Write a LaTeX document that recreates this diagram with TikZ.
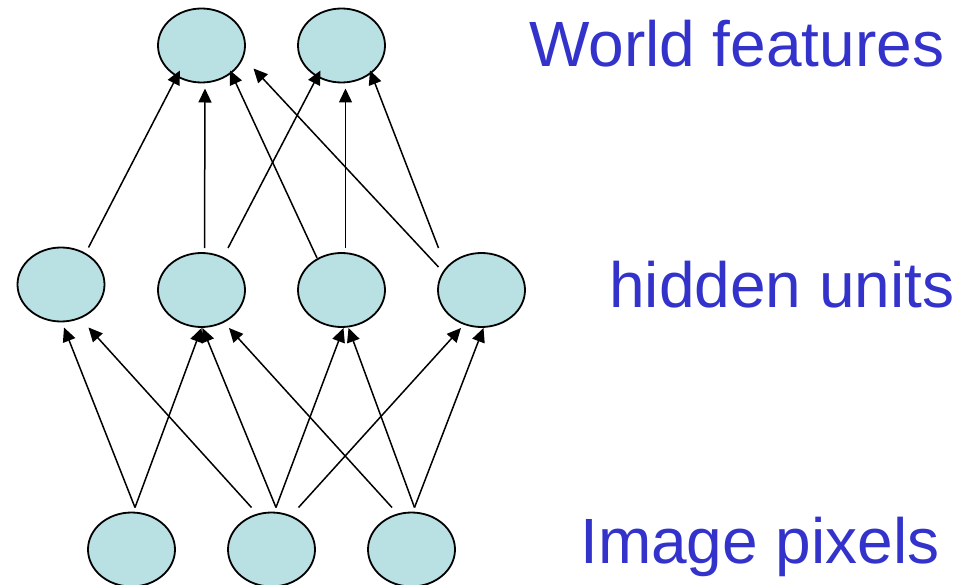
\documentclass[tikz,border=0pt]{standalone}
\usepackage{fontspec}
\setmainfont{Liberation Sans}
\usetikzlibrary{shapes.geometric,arrows.meta,calc}
\definecolor{unitfill}{RGB}{185,224,227}
\definecolor{labelblue}{RGB}{51,51,204}
\tikzset{
  unit/.style={ellipse,draw=black,line width=1.8pt,fill=unitfill,minimum width=87pt,minimum height=74pt,inner sep=0pt},
  conn/.style={line width=1.5pt,-{Triangle[length=14pt,width=13pt]}},
  lbl/.style={text=labelblue,font=\fontsize{64}{70}\selectfont,anchor=base west,inner sep=0pt}
}
\begin{document}
\begin{tikzpicture}[x=1pt,y=-1pt]
\useasboundingbox (0,0) rectangle (960,585);
% nodes
\node[unit] (t1) at (201.5,45.5) {};
\node[unit] (t2) at (341.5,45.5) {};
\node[unit] (h1) at (61,284.5) {};
\node[unit] (h2) at (201.5,290) {};
\node[unit] (h3) at (341.5,290) {};
\node[unit] (h4) at (481.5,290) {};
\node[unit] (b1) at (131.5,549.5) {};
\node[unit] (b2) at (271.5,549.5) {};
\node[unit] (b3) at (411.5,549.5) {};
% labels
\node[lbl] (lw) at (529,67) {World features};
\node[lbl] (lh) at (609,307) {hidden units};
\node[lbl] (li) at (580,563) {Image pixels};
% hidden -> world
\draw[conn] ($(h1)+(27.5,-37)$) -- ($(t1)+(-21.5,25)$);
\draw[conn] ($(h2)+(3,-42)$) -- ($(t1)+(3.5,43)$);
\draw[conn] ($(h2)+(26.5,-42)$) -- ($(t2)+(-21,25)$);
\draw[conn] ($(h3)+(-24.5,-32)$) -- ($(t1)+(28.5,25)$);
\draw[conn] ($(h3)+(4,-42)$) -- ($(t2)+(4,43)$);
\draw[conn] ($(h4)+(-43,-23)$) -- ($(t1)+(52,23)$);
\draw[conn] ($(h4)+(-43,-42)$) -- ($(t2)+(28.5,25)$);
% pixels -> hidden
\draw[conn] ($(b1)+(3.5,-42)$) -- ($(h1)+(3,43)$);
\draw[conn] ($(b1)+(3.5,-42)$) -- ($(h2)+(0,38)$);
\draw[conn] ($(b2)+(-20,-42)$) -- ($(h1)+(27.5,43)$);
\draw[conn] ($(b2)+(4.5,-42)$) -- ($(h2)+(1,38)$);
\draw[conn] ($(b2)+(4.5,-42)$) -- ($(h3)+(2,38)$);
\draw[conn] ($(b2)+(27,-42)$) -- ($(h4)+(-20.5,38)$);
\draw[conn] ($(b3)+(-19.5,-42)$) -- ($(h2)+(27.5,38)$);
\draw[conn] ($(b3)+(3,-42)$) -- ($(h3)+(7,38)$);
\draw[conn] ($(b3)+(3,-42)$) -- ($(h4)+(2,38)$);
\end{tikzpicture}
\end{document}
